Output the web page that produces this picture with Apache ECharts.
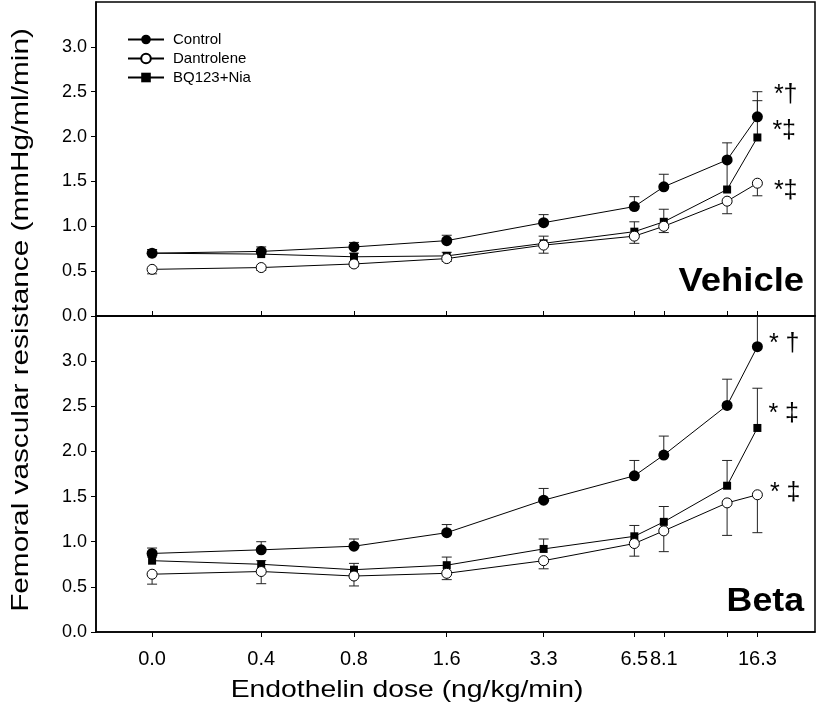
<!DOCTYPE html>
<html><head><meta charset="utf-8">
<script src="https://cdn.jsdelivr.net/npm/echarts@6/dist/echarts.min.js"></script>
<style>html,body{margin:0;padding:0;background:#fff}#c{width:819px;height:709px}</style>
</head><body><div id="c"></div>
<script>
// ---- data ----
const doseLabels = ['0.0','0.4','0.8','1.6','3.3','6.5','8.1','','16.3'];
const doses = [0, 0.4, 0.8, 1.6, 3.3, 6.5, 8.1, 13.0, 16.3];
const zeroDosePos = 0.177; // plotting position of the zero-dose group on the log axis
const xPos = doses.map(d => d === 0 ? zeroDosePos : d);

const seriesNames = ['Control', 'Dantrolene', 'BQ123+Nia'];

// Vehicle panel
const vehControl     = [0.70, 0.72, 0.77, 0.84, 1.04, 1.22, 1.44, 1.74, 2.22];
const vehControlHigh = [0.74, 0.77, 0.82, 0.90, 1.13, 1.33, 1.58, 1.93, 2.50];
const vehDant        = [0.52, 0.54, 0.58, 0.64, 0.79, 0.89, 1.00, 1.28, 1.48];
const vehDantLow     = [0.47, 0.51, 0.55, 0.61, 0.70, 0.81, 0.93, 1.14, 1.34];
const vehBQ          = [0.70, 0.69, 0.66, 0.67, 0.81, 0.94, 1.05, 1.41, 1.99];
const vehBQHigh      = [0.74, 0.74, 0.70, 0.71, 0.89, 1.05, 1.19, 1.72, 2.40];
const vehNotes       = ['*†', '*‡', '*‡'];

// Beta panel
const betaControl     = [0.87, 0.91, 0.95, 1.10, 1.46, 1.73, 1.96, 2.51, 3.16];
const betaControlHigh = [0.93, 1.00, 1.03, 1.19, 1.59, 1.90, 2.17, 2.80, 3.70];
const betaDant        = [0.64, 0.67, 0.62, 0.65, 0.79, 0.98, 1.12, 1.43, 1.52];
const betaDantLow     = [0.53, 0.535, 0.51, 0.58, 0.70, 0.84, 0.89, 1.07, 1.10];
const betaBQ          = [0.79, 0.75, 0.69, 0.74, 0.92, 1.06, 1.22, 1.62, 2.26];
const betaBQHigh      = [0.83, 0.79, 0.76, 0.83, 1.03, 1.18, 1.39, 1.90, 2.70];
const betaNotes       = ['* †', '* ‡', '* ‡'];

const yTicks = [0, 0.5, 1.0, 1.5, 2.0, 2.5, 3.0];

// ---- chart ----
const FONT = "'Liberation Sans', Arial, Helvetica, sans-serif";
const chart = echarts.init(document.getElementById('c'), null, {renderer: 'canvas'});

const styles = {
  'Control':    {symbol: 'circle', size: 11, item: {color: '#000'}, z: 5},
  'Dantrolene': {symbol: 'circle', size: 10, item: {color: '#fff', borderColor: '#000', borderWidth: 1}, z: 4},
  'BQ123+Nia':  {symbol: 'rect',   size: 8,  item: {color: '#000'}, z: 3}
};

function lineSeries(name, grid, vals, note, noteOffset, noteDist) {
  const st = styles[name];
  const data = xPos.map((x, i) => [x, vals[i]]);
  const last = data.length - 1;
  data[last] = {
    value: data[last],
    label: {show: true, formatter: note, position: 'right', distance: noteDist,
            offset: noteOffset, fontSize: 25, color: '#000', fontFamily: FONT}
  };
  return {
    name, type: 'line', xAxisIndex: grid, yAxisIndex: grid,
    data, symbol: st.symbol, symbolSize: st.size, showSymbol: true,
    itemStyle: st.item, lineStyle: {color: '#000', width: 1},
    z: st.z, silent: true, animation: false
  };
}

function errSeries(grid, lows, highs, capAtTop) {
  return {
    type: 'custom', xAxisIndex: grid, yAxisIndex: grid, silent: true, z: 1, animation: false,
    data: xPos.map((x, i) => [x, lows[i], highs[i]]),
    renderItem(params, api) {
      const cs = params.coordSys;
      const x = api.value(0);
      const pLow = api.coord([x, api.value(1)]);
      const pHigh = api.coord([x, api.value(2)]);
      let yTop = pHigh[1], yBot = pLow[1];
      let clipped = false;
      if (yTop < cs.y) { yTop = cs.y; clipped = true; }
      const w = 5;
      const children = [
        {type: 'line', shape: {x1: pLow[0], y1: yBot, x2: pHigh[0], y2: yTop},
         style: {stroke: '#222', lineWidth: 1}}
      ];
      const capY = capAtTop ? yTop : yBot;
      if (!(capAtTop && clipped)) {
        children.push({type: 'line', shape: {x1: pLow[0] - w, y1: capY, x2: pLow[0] + w, y2: capY},
                       style: {stroke: '#222', lineWidth: 1}});
      }
      return {type: 'group', children};
    }
  };
}

function labelFor(v) {
  for (let i = 0; i < xPos.length; i++) {
    if (Math.abs(v - xPos[i]) / xPos[i] < 1e-3) return doseLabels[i];
  }
  return '';
}

const xMin = 0.1164, xMax = 25.07;
const axisCommon = {
  type: 'log', logBase: 2, min: xMin, max: xMax,
  axisLine: {show: true, onZero: false, lineStyle: {color: '#000', width: 1.5}},
  splitLine: {show: false}, minorTick: {show: false}
};

const yCommon = {
  type: 'value', min: 0, max: 3.5, interval: 0.5,
  axisLine: {show: true, lineStyle: {color: '#000', width: 1.5}},
  axisTick: {show: true, length: 5, lineStyle: {color: '#000', width: 1}, customValues: yTicks},
  axisLabel: {show: true, fontSize: 18, color: '#000', fontFamily: FONT, margin: 9,
              customValues: yTicks, formatter: v => v.toFixed(1)},
  splitLine: {show: false}
};

const option = {
  backgroundColor: '#fff',
  animation: false,
  grid: [
    {left: 96, right: 4, top: 2, height: 314, show: true, borderColor: '#000', borderWidth: 1.5, backgroundColor: 'transparent'},
    {left: 96, right: 4, top: 316, height: 316, show: true, borderColor: '#000', borderWidth: 1.5, backgroundColor: 'transparent'}
  ],
  legend: {
    data: seriesNames, orient: 'vertical', left: 122, top: 27,
    itemWidth: 36, itemHeight: 12, itemGap: 4,
    textStyle: {fontSize: 15, color: '#000', fontFamily: FONT, padding: [0, 0, 0, 4]},
    selectedMode: false
  },
  xAxis: [
    Object.assign({}, axisCommon, {gridIndex: 0,
      axisTick: {show: true, inside: true, length: 5, customValues: xPos, lineStyle: {color: '#000'}},
      axisLabel: {show: false}}),
    Object.assign({}, axisCommon, {gridIndex: 1,
      axisTick: {show: true, inside: false, length: 5, customValues: xPos, lineStyle: {color: '#000'}},
      axisLabel: {show: true, customValues: xPos, formatter: labelFor, hideOverlap: false,
                  fontSize: 20, color: '#000', fontFamily: FONT, margin: 17}})
  ],
  yAxis: [
    Object.assign({}, yCommon, {gridIndex: 0}),
    Object.assign({}, yCommon, {gridIndex: 1})
  ],
  graphic: [
    {type: 'text', x: 21, y: 320, rotation: Math.PI / 2, scaleX: 1.24, silent: true,
     style: {text: 'Femoral vascular resistance (mmHg/ml/min)', x: 0, y: 0, align: 'center', verticalAlign: 'middle',
             font: '24px ' + FONT, fill: '#000'}},
    {type: 'text', x: 407, y: 690, scaleX: 1.18, silent: true,
     style: {text: 'Endothelin dose (ng/kg/min)', x: 0, y: 0, align: 'center', verticalAlign: 'middle',
             font: '24px ' + FONT, fill: '#000'}},
    {type: 'text', x: 804, y: 282, scaleX: 1.07, silent: true,
     style: {text: 'Vehicle', x: 0, y: 0, align: 'right', verticalAlign: 'middle',
             font: 'bold 34px ' + FONT, fill: '#000'}},
    {type: 'text', x: 804, y: 602, scaleX: 1.05, silent: true,
     style: {text: 'Beta', x: 0, y: 0, align: 'right', verticalAlign: 'middle',
             font: 'bold 34px ' + FONT, fill: '#000'}}
  ],
  series: [
    errSeries(0, vehControl, vehControlHigh, true),
    errSeries(0, vehBQ, vehBQHigh, true),
    errSeries(0, vehDantLow, vehDant, false),
    errSeries(1, betaControl, betaControlHigh, true),
    errSeries(1, betaBQ, betaBQHigh, true),
    errSeries(1, betaDantLow, betaDant, false),
    lineSeries('BQ123+Nia', 0, vehBQ, vehNotes[1], [0, -6], 11),
    lineSeries('Dantrolene', 0, vehDant, vehNotes[2], [0, 8], 11),
    lineSeries('Control', 0, vehControl, vehNotes[0], [0, -22], 11),
    lineSeries('BQ123+Nia', 1, betaBQ, betaNotes[1], [0, -14], 7),
    lineSeries('Dantrolene', 1, betaDant, betaNotes[2], [0, -2], 7),
    lineSeries('Control', 1, betaControl, betaNotes[0], [0, -3], 6)
  ]
};
chart.setOption(option);
</script>
</body></html>
